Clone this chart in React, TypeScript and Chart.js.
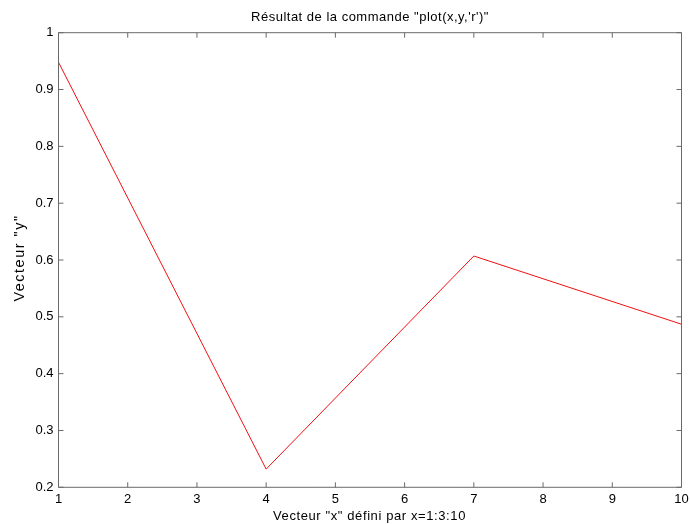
import React, { useEffect, useRef } from "react";
import { Chart, registerables } from "chart.js";

Chart.register(...registerables);

const titleText = "Résultat de la commande \"plot(x,y,'r')\"";
const xLabel = "Vecteur \"x\" défini par x=1:3:10";
const yLabel = "Vecteur \"y\"";

const xValues = [1, 4, 7, 10];
const yValues = [0.948, 0.232, 0.607, 0.487];

const xMin = 1;
const xMax = 10;
const yMin = 0.2;
const yMax = 1;

const FONT = "'Liberation Sans', Arial, sans-serif";
const AXIS_COLOR = "#6a6a6a";

const boxPlugin = {
  id: "matlabBox",
  afterDatasetsDraw(chart: any) {
    const { ctx, chartArea, scales } = chart;
    const { left, right, top, bottom } = chartArea;
    const tl = 5;
    ctx.save();
    ctx.strokeStyle = AXIS_COLOR;
    ctx.lineWidth = 1;
    ctx.beginPath();
    ctx.rect(left, top, right - left, bottom - top);
    ctx.stroke();
    ctx.beginPath();
    for (const t of scales.x.ticks) {
      const px = scales.x.getPixelForValue(t.value);
      ctx.moveTo(px, bottom);
      ctx.lineTo(px, bottom - tl);
      ctx.moveTo(px, top);
      ctx.lineTo(px, top + tl);
    }
    for (const t of scales.y.ticks) {
      const py = scales.y.getPixelForValue(t.value);
      ctx.moveTo(left, py);
      ctx.lineTo(left + tl, py);
      ctx.moveTo(right, py);
      ctx.lineTo(right - tl, py);
    }
    ctx.stroke();
    ctx.restore();
  },
};

const labelsPlugin = {
  id: "matlabLabels",
  afterDraw(chart: any) {
    const { ctx, chartArea } = chart;
    const { left, right, top, bottom } = chartArea;
    const cx = (left + right) / 2;
    ctx.save();
    ctx.fillStyle = "#000";
    ctx.font = `13px ${FONT}`;
    ctx.textAlign = "center";
    ctx.textBaseline = "middle";
    (ctx as any).letterSpacing = "0.5px";
    ctx.fillText(titleText, cx, 17.1);
    (ctx as any).letterSpacing = "0.6px";
    ctx.fillText(xLabel, cx - 0.5, 516.8);
    ctx.font = `14.5px ${FONT}`;
    (ctx as any).letterSpacing = "1.5px";
    ctx.translate(20.4, (top + bottom) / 2 - 2);
    ctx.rotate(-Math.PI / 2);
    ctx.fillText(yLabel, 0, 0);
    ctx.restore();
  },
};

export default function App() {
  const canvasRef = useRef<HTMLCanvasElement | null>(null);

  useEffect(() => {
    if (!canvasRef.current) return;
    const chart = new Chart(canvasRef.current, {
      type: "line",
      data: {
        datasets: [
          {
            data: xValues.map((x, i) => ({ x, y: yValues[i] })),
            borderColor: "#f01010",
            borderWidth: 1,
            pointRadius: 0,
            tension: 0,
            fill: false,
          },
        ],
      },
      options: {
        responsive: false,
        animation: false,
        maintainAspectRatio: false,
        layout: { padding: { left: 0, right: 8.5, top: 32.7, bottom: 0 } },
        plugins: {
          legend: { display: false },
          tooltip: { enabled: false },
          title: { display: false },
        },
        scales: {
          x: {
            type: "linear",
            min: xMin,
            max: xMax,
            grid: { display: false, drawTicks: false },
            border: { display: false },
            ticks: {
              stepSize: 1,
              autoSkip: false,
              maxRotation: 0,
              color: "#000",
              padding: 4,
              font: { family: FONT, size: 13 },
            },
            afterFit: (scale: any) => {
              scale.height = 36.7;
              scale.paddingLeft = 0;
              scale.paddingRight = 0;
            },
          },
          y: {
            type: "linear",
            min: yMin,
            max: yMax,
            grid: { display: false, drawTicks: false },
            border: { display: false },
            ticks: {
              stepSize: 0.1,
              autoSkip: false,
              color: "#000",
              padding: 5,
              font: { family: FONT, size: 13 },
              callback: (v: any) => String(Number(Number(v).toFixed(1))),
            },
            afterFit: (scale: any) => {
              scale.width = 58.5;
              scale.paddingTop = 0;
              scale.paddingBottom = 0;
            },
          },
        },
      },
      plugins: [boxPlugin, labelsPlugin],
    });
    return () => chart.destroy();
  }, []);

  return (
    <div
      style={{
        position: "fixed",
        left: 0,
        top: 0,
        width: 690,
        height: 524,
        background: "#fff",
      }}
    >
      <canvas ref={canvasRef} width={690} height={524} />
    </div>
  );
}
